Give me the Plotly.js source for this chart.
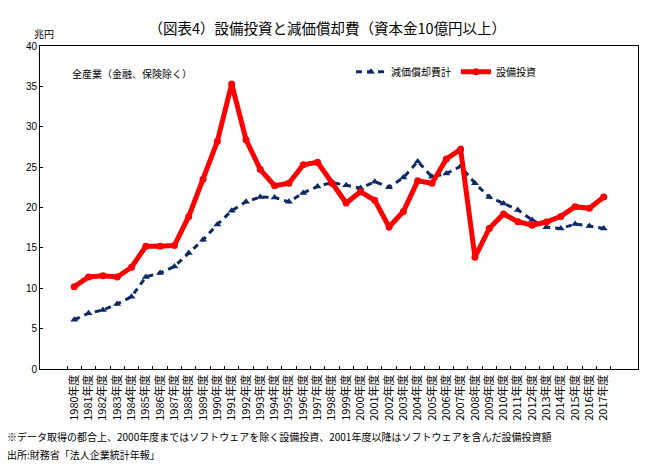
<!DOCTYPE html>
<html>
<head>
<meta charset="utf-8">
<script src="https://cdn.plot.ly/plotly-3.0.1.min.js"></script>
<style>html,body{margin:0;padding:0;background:#fff;}#chart{width:668px;height:475px;}</style>
</head>
<body>
<div id="chart"></div>
<script>
const years = ["1980年度","1981年度","1982年度","1983年度","1984年度","1985年度","1986年度","1987年度","1988年度","1989年度","1990年度","1991年度","1992年度","1993年度","1994年度","1995年度","1996年度","1997年度","1998年度","1999年度","2000年度","2001年度","2002年度","2003年度","2004年度","2005年度","2006年度","2007年度","2008年度","2009年度","2010年度","2011年度","2012年度","2013年度","2014年度","2015年度","2016年度","2017年度"];
const depreciation = [6.1,6.9,7.3,8.05,8.95,11.4,11.9,12.7,14.35,16.0,17.9,19.6,20.7,21.3,21.25,20.7,21.8,22.6,23.1,22.75,22.4,23.2,22.5,23.7,25.7,23.8,24.2,25.1,23.0,21.3,20.5,19.7,18.45,17.55,17.4,17.95,17.7,17.4];
const capex = [10.2,11.4,11.55,11.4,12.6,15.2,15.2,15.3,18.9,23.5,28.2,35.3,28.4,24.7,22.7,23.0,25.3,25.6,23.0,20.55,21.95,20.9,17.6,19.5,23.3,23.0,26.0,27.2,13.85,17.4,19.2,18.25,17.8,18.2,18.9,20.1,19.9,21.3];
const yTicks = [0,5,10,15,20,25,30,35,40];

const FONT = "Liberation Sans, Arial, Noto Sans CJK JP, sans-serif";
const JFONT = "Noto Sans CJK JP, Liberation Sans, sans-serif";

const traces = [
  {
    x: years, y: depreciation, name: "減価償却費計", type: "scatter", mode: "lines+markers",
    line: {color: "#0e2a66", width: 3, dash: "6px,5px"},
    marker: {symbol: "triangle-up", size: 7, color: "#0e2a66"}
  },
  {
    x: years, y: capex, name: "設備投資", type: "scatter", mode: "lines+markers",
    line: {color: "#ff0000", width: 5},
    marker: {symbol: "circle", size: 7, color: "#ff0000"}
  }
];

const layout = {
  width: 668, height: 475,
  margin: {l: 39.5, r: 30, t: 45.5, b: 106, pad: 0},
  paper_bgcolor: "#fff", plot_bgcolor: "#fff",
  font: {family: FONT, size: 10, color: "#000"},
  title: {text: "（図表4）設備投資と減価償却費（資本金10億円以上）", font: {family: JFONT, size: 14.5, color: "#000"}, x: 0.49, xanchor: "center", y: 0.94, yanchor: "middle"},
  showlegend: true,
  legend: {orientation: "h", x: 0.52, xanchor: "left", y: 0.965, yanchor: "top", font: {family: JFONT, size: 10}, bgcolor: "rgba(0,0,0,0)", itemwidth: 30, tracegroupgap: 0},
  xaxis: {
    type: "category", tickangle: -90, ticks: "inside", ticklen: 3, tickson: "boundaries", tickcolor: "#000",
    showline: true, linecolor: "#000", linewidth: 1, mirror: true, showgrid: false, zeroline: false,
    tickfont: {family: JFONT, size: 11}, automargin: false
  },
  yaxis: {
    range: [0, 40], tickvals: yTicks, ticks: "inside", ticklen: 3, tickcolor: "#000",
    showline: true, linecolor: "#000", linewidth: 1, mirror: true, showgrid: false, zeroline: false,
    tickfont: {family: FONT, size: 10}, automargin: false
  },
  annotations: [
    {text: "兆円", xref: "paper", yref: "paper", x: -0.014, y: 1.04, xanchor: "left", yanchor: "middle", showarrow: false, font: {family: JFONT, size: 10}},
    {text: "全産業（金融、保険除く）", xref: "paper", yref: "paper", x: 0.05, y: 0.915, xanchor: "left", yanchor: "middle", showarrow: false, font: {family: JFONT, size: 10}},
    {text: "※データ取得の都合上、2000年度まではソフトウェアを除く設備投資、2001年度以降はソフトウェアを含んだ設備投資額", xref: "paper", yref: "paper", x: -0.058, y: -0.21, xanchor: "left", yanchor: "middle", showarrow: false, font: {family: JFONT, size: 10}},
    {text: "出所:財務省「法人企業統計年報」", xref: "paper", yref: "paper", x: -0.058, y: -0.265, xanchor: "left", yanchor: "middle", showarrow: false, font: {family: JFONT, size: 10}}
  ]
};

Plotly.newPlot("chart", traces, layout, {displayModeBar: false, staticPlot: true});
</script>
</body>
</html>
